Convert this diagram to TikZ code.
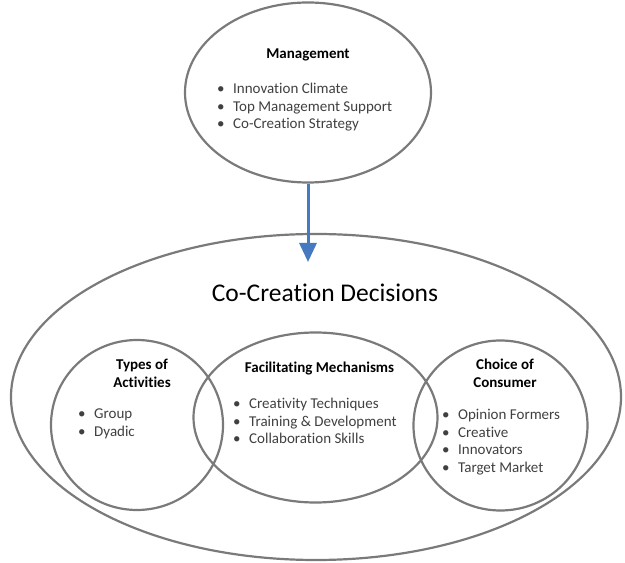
\documentclass[tikz,border=0pt]{standalone}
\usepackage{fontspec}
\setmainfont{Carlito}[Ligatures=CommonOff]
\usetikzlibrary{positioning, shapes, arrows.meta, calc}

\definecolor{ringgray}{RGB}{122,122,122}
\definecolor{itemgray}{RGB}{64,64,64}
\definecolor{arrowblue}{RGB}{70,122,192}

\newcommand{\bul}{\makebox[16pt][l]{\textbullet}}

\tikzset{
  ring/.style={draw=ringgray, line width=2.2pt, ellipse, inner sep=0pt},
  heading/.style={font=\fontsize{15}{18}\selectfont\bfseries, align=center, inner sep=0pt},
  item/.style={font=\fontsize{15}{18}\selectfont, text=itemgray, anchor=base west, inner sep=0pt},
}

\begin{document}
\begin{tikzpicture}[x=1pt, y=1pt]
                  \useasboundingbox (0,0) rectangle (625,563);

                  % Outer decision ellipse
                  \node[ring, minimum width=610pt, minimum height=326pt] (decisions) at (316,166) {};
                  \node[font=\fontsize{25.5}{29}\selectfont, anchor=base] (decisionstitle) at (325,261) {Co-Creation Decisions};

                  % Management
                  \node[ring, minimum width=246pt, minimum height=180pt] (mgmt) at (308,470.5) {};
                  \node[heading, anchor=base] (mgmthead) at (308,504) {Management};
                  \foreach \t [count=\i] in {Innovation Climate, Top Management Support, Co-Creation Strategy}
                  \node[item] (mgmt\i) at (217, 486.5-17.5*\i) {\bul\t};

                  % Types of activities
                  \node[ring, minimum width=172pt, minimum height=170pt] (act) at (137,138) {};
                  \node[heading] (acthead) at (142,190) {Types of\\Activities};
                  \foreach \t [count=\i] in {Group, Dyadic}
                  \node[item] (act\i) at (78, 161.5-17.5*\i) {\bul\t};

                  % Facilitating mechanisms
                  \node[ring, minimum width=244pt, minimum height=170pt] (fac) at (315.5,145.5) {};
                  \node[heading, anchor=base] (fachead) at (319.5,190) {Facilitating Mechanisms};
                  \foreach \t [count=\i] in {Creativity Techniques, Training \& Development, Collaboration Skills}
                  \node[item] (fac\i) at (233, 171.5-17.5*\i) {\bul\t};

                  % Choice of consumer
                  \node[ring, minimum width=174pt, minimum height=170pt] (cons) at (500.5,137.5) {};
                  \node[heading] (conshead) at (505,189.5) {Choice of\\Consumer};
                  \foreach \t [count=\i] in {Opinion Formers, Creative, Innovators, Target Market}
                  \node[item] (cons\i) at (442, 160.5-17.5*\i) {\bul\t};

                  % Arrow
                  \coordinate (tip) at (308,301);
                  \draw[-{Triangle[length=19pt, width=17pt]}, arrowblue, line width=3pt] (mgmt.south) -- (tip);

              \end{tikzpicture}
\end{document}
